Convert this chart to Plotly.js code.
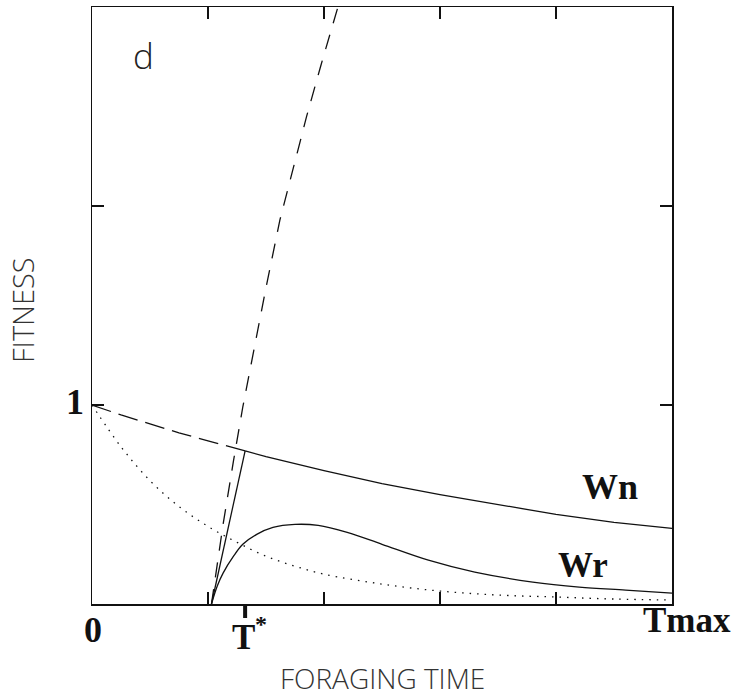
<!DOCTYPE html>
<html>
<head>
<meta charset="utf-8">
<script src="https://cdn.plot.ly/plotly-3.0.1.min.js"></script>
<style>html,body{margin:0;padding:0;background:#fff;}#chart{width:735px;height:699px;}</style>
</head>
<body>
<div id="chart"></div>
<script>
// Foraging time in units where Tmax = 5
const T_STAR = 1.32;
const T_MAX = 5;

// Wn: fitness of non-reproducing
const wnT = [0, 0.25, 0.5, 0.75, 1.0, 1.32, 1.5, 2.0, 2.5, 3.0, 3.5, 4.0, 4.5, 5.0];
const wnY = [1.0, 0.95, 0.905, 0.86, 0.82, 0.77, 0.74, 0.67, 0.605, 0.55, 0.50, 0.45, 0.41, 0.38];

// Dotted decay curve
const dotT = [0, 0.25, 0.5, 0.75, 1.0, 1.25, 1.5, 1.75, 2.0, 2.5, 3.0, 3.5, 4.0, 4.5, 5.0];
const dotY = [1.0, 0.79, 0.62, 0.49, 0.39, 0.31, 0.24, 0.19, 0.15, 0.10, 0.065, 0.045, 0.035, 0.025, 0.02];

// Steep dashed gain curve
const gainT = [1.03, 1.13, 1.22, 1.3, 1.4, 1.5, 1.62, 1.75, 1.85, 1.97, 2.08, 2.12];
const gainY = [0, 0.40, 0.72, 0.99, 1.29, 1.59, 1.93, 2.22, 2.45, 2.70, 2.92, 3.0];

// Tangent line from origin of gain to Wn at T*
const tanT = [1.03, 1.32];
const tanY = [0, 0.77];

// Wr: fitness of reproducing
const wrT = [1.03, 1.08, 1.13, 1.22, 1.3, 1.42, 1.56, 1.75, 1.95, 2.2, 2.5, 2.9, 3.3, 3.8, 4.2, 4.6, 5.0];
const wrY = [0, 0.09, 0.155, 0.24, 0.30, 0.35, 0.385, 0.40, 0.395, 0.36, 0.30, 0.22, 0.16, 0.11, 0.085, 0.07, 0.055];

const xTicks = [1, 2, 3, 4];
const yTicks = [1, 2];

// split Wn into dashed (before T*) and solid (after T*)
const wnDashT = [], wnDashY = [], wnSolT = [], wnSolY = [];
wnT.forEach((t, i) => {
  if (t <= T_STAR) { wnDashT.push(t); wnDashY.push(wnY[i]); }
  if (t >= T_STAR) { wnSolT.push(t); wnSolY.push(wnY[i]); }
});

const ink = '#111';
const traces = [
  {x: wnDashT, y: wnDashY, mode: 'lines', line: {color: ink, width: 1.3, dash: '20px,8px'}, hoverinfo: 'skip'},
  {x: wnSolT, y: wnSolY, mode: 'lines', line: {color: ink, width: 1.3}, hoverinfo: 'skip'},
  {x: dotT, y: dotY, mode: 'lines', line: {color: ink, width: 1.3, dash: '1.5px,6px', shape: 'spline'}, hoverinfo: 'skip'},
  {x: gainT, y: gainY, mode: 'lines', line: {color: ink, width: 1.3, dash: '15px,12px'}, hoverinfo: 'skip'},
  {x: tanT, y: tanY, mode: 'lines', line: {color: ink, width: 1.3}, hoverinfo: 'skip'},
  {x: wrT, y: wrY, mode: 'lines', line: {color: ink, width: 1.3, shape: 'spline'}, hoverinfo: 'skip'}
];

const L = 92, R = 672, TOP = 7, BOT = 604;
const px = v => (v - L) / (R - L);
const py = v => (BOT - v) / (BOT - TOP);

const serif = 'Liberation Serif, Times New Roman, serif';
const sans = 'Open Sans, Liberation Sans, Arial, sans-serif';

function ann(text, x, y, size, family, color, extra, weight) {
  return Object.assign({text: text, x: px(x), y: py(y), xref: 'paper', yref: 'paper',
    showarrow: false, xanchor: 'center', yanchor: 'middle',
    font: {family: family, size: size, color: color, weight: weight || 'normal'}}, extra || {});
}

const layout = {
  width: 735, height: 699,
  margin: {l: L, r: 735 - R, t: TOP, b: 699 - BOT, pad: 0},
  paper_bgcolor: '#fff', plot_bgcolor: '#fff',
  showlegend: false,
  xaxis: {range: [0, T_MAX], tickvals: xTicks, ticks: 'inside', ticklen: 12, tickwidth: 1.2, tickcolor: ink,
    showticklabels: false, showline: true, linecolor: ink, linewidth: 1.5, mirror: 'allticks',
    showgrid: false, zeroline: false, fixedrange: true},
  yaxis: {range: [0, 3], tickvals: yTicks, ticks: 'inside', ticklen: 12, tickwidth: 1.2, tickcolor: ink,
    showticklabels: false, showline: true, linecolor: ink, linewidth: 1.5, mirror: 'allticks',
    showgrid: false, zeroline: false, fixedrange: true},
  shapes: [
    {type: 'line', xref: 'x', yref: 'paper', x0: T_STAR, x1: T_STAR, y0: 0, y1: -14 / (BOT - TOP),
     line: {color: ink, width: 4}}
  ],
  annotations: [
    ann('d', 143, 56, 35, sans, '#222', null, 300),
    ann('1', 75, 402, 36, serif, ink, null, 'bold'),
    ann('0', 93, 630, 36, serif, ink, null, 'bold'),
    ann('T', 243, 637, 35, serif, ink, null, 'bold'),
    ann('*', 261, 624, 24, serif, ink, null, 'bold'),
    ann('Tmax', 687, 620, 35, serif, ink, null, 'bold'),
    ann('Wn', 610, 487, 36, serif, ink, null, 'bold'),
    ann('Wr', 583, 565, 35, serif, ink, null, 'bold'),
    ann('FITNESS', 22, 310, 29, sans, '#333', {textangle: -90}, 300),
    ann('FORAGING TIME', 383, 678, 28, sans, '#333', null, 300)
  ]
};

Plotly.newPlot('chart', traces, layout, {staticPlot: true, displayModeBar: false});
</script>
</body>
</html>
